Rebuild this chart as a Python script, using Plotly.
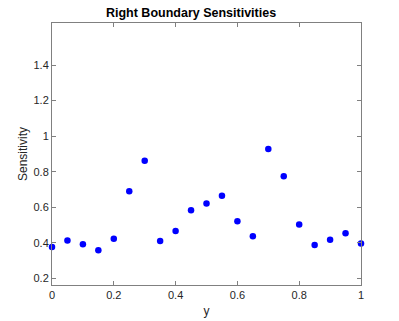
import plotly.graph_objects as go

y_pos = [0, 0.05, 0.1, 0.15, 0.2, 0.25, 0.3, 0.35, 0.4, 0.45, 0.5,
         0.55, 0.6, 0.65, 0.7, 0.75, 0.8, 0.85, 0.9, 0.95, 1.0]
sensitivity = [0.376, 0.412, 0.392, 0.358, 0.423, 0.690, 0.862, 0.410, 0.466, 0.583, 0.621,
               0.665, 0.521, 0.437, 0.928, 0.774, 0.503, 0.387, 0.417, 0.454, 0.395]
x_ticks = [0, 0.2, 0.4, 0.6, 0.8, 1]
y_ticks = [0.2, 0.4, 0.6, 0.8, 1.0, 1.2, 1.4]
y_tick_text = ["0.2", "0.4", "0.6", "0.8", "1", "1.2", "1.4"]

fig = go.Figure(go.Scatter(
    x=y_pos, y=sensitivity, mode="markers",
    marker=dict(color="#0000ff", size=6.5, line=dict(width=0)),
    cliponaxis=False,
))

axis_common = dict(
    showgrid=False, zeroline=False, showline=True, linecolor="#808080", linewidth=1,
    mirror="ticks", ticks="inside", ticklen=4, tickcolor="#808080", automargin=False,
    tickfont=dict(family="Liberation Sans, Arial, sans-serif", size=11, color="#262626"),
)

fig.update_layout(
    width=399, height=321,
    margin=dict(l=52, r=38, t=23, b=36),
    paper_bgcolor="white", plot_bgcolor="white",
    showlegend=False,
    title=dict(text="<b>Right Boundary Sensitivities</b>", x=0.45, xanchor="center",
               xref="paper", y=1 - 13/321, yanchor="middle",
               font=dict(family="Liberation Sans, Arial, sans-serif", size=12.5, color="black")),
    xaxis=dict(range=[0, 1], tickvals=x_ticks, ticktext=["0", "0.2", "0.4", "0.6", "0.8", "1"],
               title=dict(text="y", standoff=6,
                          font=dict(family="Liberation Sans, Arial, sans-serif", size=12, color="#262626")),
               **axis_common),
    yaxis=dict(range=[0.162, 1.637], tickvals=y_ticks, ticktext=y_tick_text,
               title=dict(text="Sensitivity", standoff=3,
                          font=dict(family="Liberation Sans, Arial, sans-serif", size=12, color="#262626")),
               **axis_common),
)

fig.write_html("out.html", config={"displayModeBar": False},
               post_script="document.body.style.margin='0';")
